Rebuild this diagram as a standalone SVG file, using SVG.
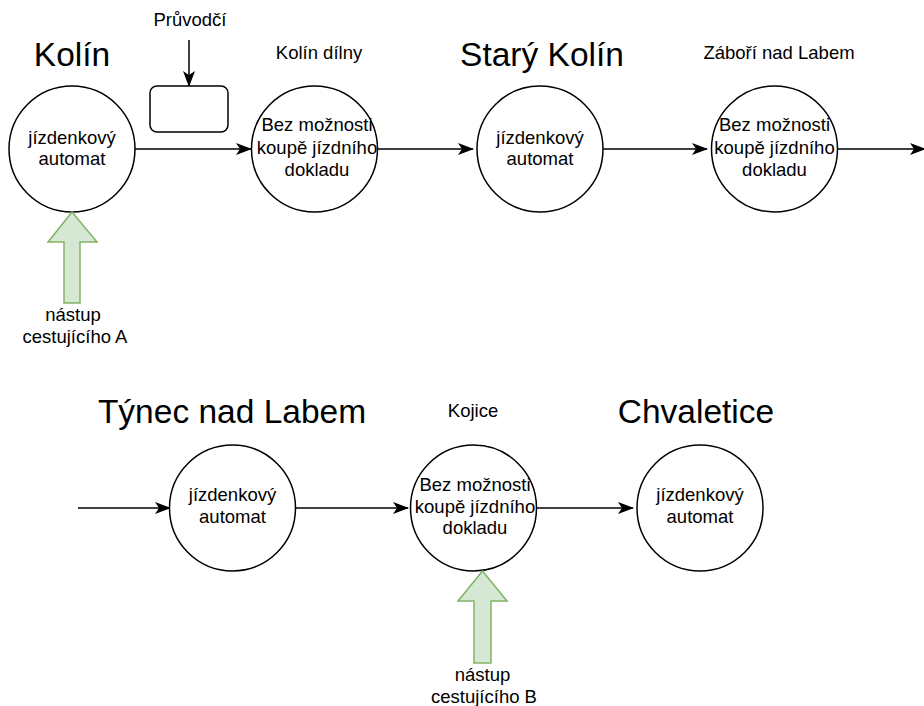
<svg xmlns="http://www.w3.org/2000/svg" width="924" height="706" viewBox="0 0 924 706">
  <style>
    .stop { fill: #ffffff; stroke: #000000; stroke-width: 1.5; }
    .box { fill: #ffffff; stroke: #000000; stroke-width: 1.5; }
    .edge { fill: none; stroke: #000000; stroke-width: 1.5; }
    .board { fill: #d5e8d4; stroke: #82b366; stroke-width: 1.5; }
    .t { font-family: "Liberation Sans", Arial, Helvetica, sans-serif; font-size: 18.5px; fill: #000000; text-anchor: middle; }
    .title { font-family: "Liberation Sans", Arial, Helvetica, sans-serif; font-size: 33.5px; fill: #000000; text-anchor: middle; }
  </style>
  <defs>
    <marker id="arrow" viewBox="0 0 16 12" refX="15" refY="6" markerWidth="16" markerHeight="12" markerUnits="userSpaceOnUse" orient="auto">
      <path d="M0,0 L16,6 L0,12 L4,6 Z" fill="#000000"/>
    </marker>
  </defs>

  <rect width="924" height="706" fill="#ffffff"/>

  <!-- station titles -->
  <g id="titles">
    <text class="title" x="72" y="66">Kolín</text>
    <text class="t" x="319" y="59">Kolín dílny</text>
    <text class="title" x="542" y="66">Starý Kolín</text>
    <text class="t" x="779" y="59">Záboří nad Labem</text>
    <text class="title" x="232" y="423">Týnec nad Labem</text>
    <text class="t" x="473" y="417">Kojice</text>
    <text class="title" x="696" y="423">Chvaletice</text>
  </g>

  <!-- connectors -->
  <g id="connectors">
    <line class="edge" x1="189" y1="40" x2="189" y2="86" marker-end="url(#arrow)"/>
    <line class="edge" x1="135" y1="149" x2="251" y2="149" marker-end="url(#arrow)"/>
    <line class="edge" x1="378" y1="149" x2="473" y2="149" marker-end="url(#arrow)"/>
    <line class="edge" x1="603" y1="149" x2="707" y2="149" marker-end="url(#arrow)"/>
    <line class="edge" x1="837" y1="149" x2="925" y2="149" marker-end="url(#arrow)"/>
    <line class="edge" x1="78" y1="508" x2="170" y2="508" marker-end="url(#arrow)"/>
    <line class="edge" x1="296" y1="508" x2="408" y2="508" marker-end="url(#arrow)"/>
    <line class="edge" x1="537" y1="508" x2="633" y2="508" marker-end="url(#arrow)"/>
  </g>

  <!-- conductor -->
  <g id="pruvodci">
    <text class="t" x="190" y="26">Průvodčí</text>
    <rect class="box" x="150" y="86" width="78" height="46" rx="7" ry="7"/>
  </g>

  <!-- row 1 -->
  <g id="kolin">
    <circle class="stop" cx="72" cy="149" r="63"/>
    <text class="t" x="72" y="144">jízdenkový</text>
    <text class="t" x="72" y="165">automat</text>
  </g>
  <g id="kolin-dilny">
    <circle class="stop" cx="314.5" cy="149" r="63"/>
    <text class="t" x="317" y="131">Bez možnosti</text>
    <text class="t" x="317" y="154">koupě jízdního</text>
    <text class="t" x="317" y="176">dokladu</text>
  </g>
  <g id="stary-kolin">
    <circle class="stop" cx="540" cy="149" r="63"/>
    <text class="t" x="540" y="144">jízdenkový</text>
    <text class="t" x="540" y="165">automat</text>
  </g>
  <g id="zabori">
    <circle class="stop" cx="774.5" cy="149" r="63"/>
    <text class="t" x="774.5" y="131">Bez možnosti</text>
    <text class="t" x="774.5" y="154">koupě jízdního</text>
    <text class="t" x="774.5" y="176">dokladu</text>
  </g>

  <!-- row 2 -->
  <g id="tynec">
    <circle class="stop" cx="232.5" cy="508" r="63"/>
    <text class="t" x="232.5" y="501">jízdenkový</text>
    <text class="t" x="232.5" y="523">automat</text>
  </g>
  <g id="kojice">
    <circle class="stop" cx="473.5" cy="508" r="63"/>
    <text class="t" x="475" y="491">Bez možnosti</text>
    <text class="t" x="475" y="513">koupě jízdního</text>
    <text class="t" x="475" y="534">dokladu</text>
  </g>
  <g id="chvaletice">
    <circle class="stop" cx="700" cy="508" r="63"/>
    <text class="t" x="700" y="501">jízdenkový</text>
    <text class="t" x="700" y="523">automat</text>
  </g>

  <!-- boarding passengers -->
  <g id="nastup-a">
    <path class="board" d="M72,212 L97,242 L80,242 L80,303 L64,303 L64,242 L48,242 Z"/>
    <text class="t" x="73" y="321">nástup</text>
    <text class="t" x="75" y="343">cestujícího A</text>
  </g>
  <g id="nastup-b">
    <path class="board" d="M482.5,571 L507,601 L491,601 L491,663 L474,663 L474,601 L458,601 Z"/>
    <text class="t" x="482.5" y="681">nástup</text>
    <text class="t" x="484" y="703">cestujícího B</text>
  </g>
</svg>
